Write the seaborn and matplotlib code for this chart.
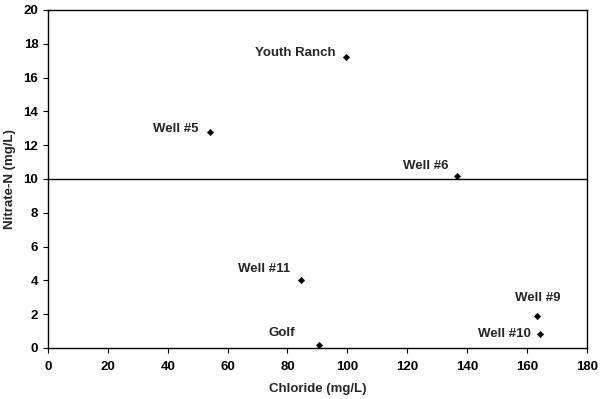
import matplotlib
matplotlib.use("Agg")
import matplotlib.pyplot as plt
import seaborn as sns
import pandas as pd

# ============ DATA ============
sites = ["Youth Ranch", "Well #5", "Well #6", "Well #11", "Golf", "Well #9", "Well #10"]
chloride = [99.5, 54, 136.5, 84.5, 90.5, 163.5, 164.5]
nitrate = [17.2, 12.8, 10.2, 4.0, 0.2, 1.9, 0.8]
# label offsets in pixels (dx, dy) and horizontal alignment
label_offsets = [(-10, 4), (-11, 3), (-8, 10), (-11, 11), (-37, 12), (0, 18), (-10, 0)]
label_ha = ["right", "right", "right", "right", "center", "center", "right"]

df = pd.DataFrame({"site": sites, "Chloride": chloride, "Nitrate": nitrate})

# ============ PLOT ============
sns.set_style("ticks")
plt.rcParams["font.family"] = ["Liberation Sans", "DejaVu Sans"]
plt.rcParams["font.weight"] = "bold"

fig, ax = plt.subplots(figsize=(6, 3.99), dpi=100)
fig.subplots_adjust(left=0.08, right=0.978, top=0.975, bottom=0.128)

sns.scatterplot(data=df, x="Chloride", y="Nitrate", marker="D", s=11,
                color="black", edgecolor="black", linewidth=0.3, ax=ax, zorder=3)

ax.axhline(10, color="black", linewidth=1.0, zorder=2)

for s, x, y, off, ha in zip(sites, chloride, nitrate, label_offsets, label_ha):
    ax.annotate(s, (x, y), xytext=off, textcoords="offset pixels",
                ha=ha, va="center", fontsize=9.5, fontweight="bold")

ax.set_xlim(0, 180)
ax.set_ylim(0, 20)
ax.set_xticks(range(0, 181, 20))
ax.set_yticks(range(0, 21, 2))
ax.tick_params(direction="out", length=3.5, width=0.8, labelsize=9.5, colors="black")
ax.tick_params(axis="x", pad=6)
for lab in ax.get_xticklabels() + ax.get_yticklabels():
    lab.set_fontweight("bold")
for sp in ax.spines.values():
    sp.set_visible(True)
    sp.set_linewidth(1.0)
    sp.set_color("black")

ax.set_xlabel("Chloride (mg/L)", fontsize=9.5, fontweight="bold", labelpad=7)
ax.set_ylabel("Nitrate-N (mg/L)", fontsize=9.5, fontweight="bold", labelpad=5)

plt.savefig("out.png", dpi=100)
